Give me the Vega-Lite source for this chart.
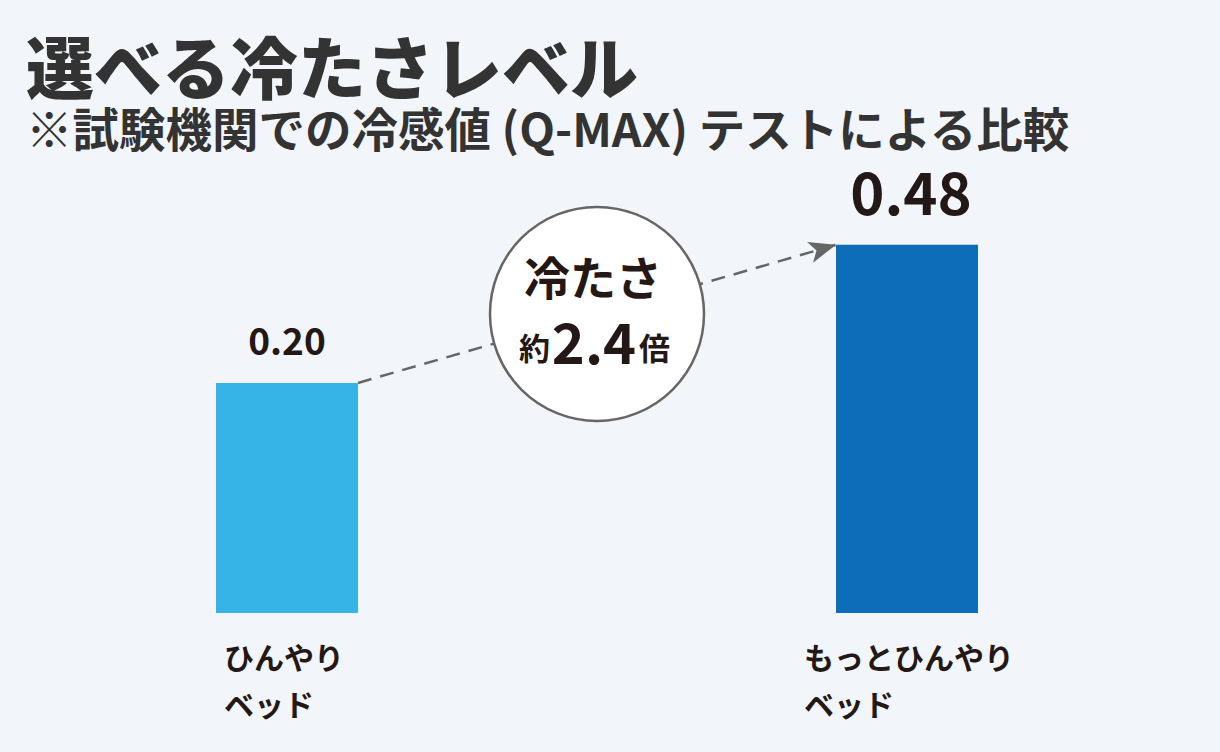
{
  "$schema": "https://vega.github.io/schema/vega-lite/v6.json",
  "autosize": {"type": "none"},
  "padding": {"left": 216, "top": 67, "right": 242, "bottom": 139},
  "width": 762,
  "height": 546,
  "background": "#f2f6fa",
  "config": {"view": {"stroke": null}, "font": "Noto Sans CJK JP"},
  "title": {
    "text": "選べる冷たさレベル",
    "subtitle": "※試験機関での冷感値 (Q-MAX) テストによる比較",
    "anchor": "start",
    "frame": "group",
    "font": "Noto Sans CJK JP",
    "fontSize": 68,
    "fontWeight": 900,
    "color": "#333333",
    "subtitleFont": "Noto Sans CJK JP",
    "subtitleFontSize": 46.5,
    "subtitleFontWeight": "bold",
    "subtitleColor": "#333333",
    "subtitlePadding": 2,
    "dx": -190,
    "offset": -89
  },
  "datasets": {
    "bars": [
      {"name": "ひんやりベッド", "value": 0.20},
      {"name": "もっとひんやりベッド", "value": 0.48}
    ],
    "arrow": [
      {"from": "ひんやりベッド", "to": "もっとひんやりベッド", "v0": 0.20, "v1": 0.48}
    ],
    "note": [
      {"name": "mid", "pos": 0.326, "head": "冷たさ", "prefix": "約", "ratio": "2.4", "suffix": "倍"}
    ]
  },
  "layer": [
    {
      "data": {"name": "bars"},
      "mark": {"type": "bar"},
      "encoding": {
        "x": {
          "field": "name",
          "type": "nominal",
          "sort": null,
          "scale": {"domain": ["ひんやりベッド", "mid", "もっとひんやりベッド"], "paddingInner": 0.54194, "paddingOuter": 0},
          "axis": {
            "title": null,
            "domain": false,
            "ticks": false,
            "tickSize": 0,
            "labelAngle": 0,
            "labelFont": "Noto Sans CJK JP",
            "labelFontSize": 30,
            "labelFontWeight": "bold",
            "labelColor": "#231815",
            "labelAlign": "left",
            "labelBaseline": "top",
            "labelLineHeight": 47,
            "labelPadding": 31,
            "labelLimit": 400,
            "labelOverlap": false,
            "labelOffset": {"condition": {"test": "datum.value == 'ひんやりベッド'", "value": -63}, "value": -103},
            "labelExpr": "datum.value == 'mid' ? '' : [replace(datum.value, 'ベッド', ''), 'ベッド']"
          }
        },
        "y": {
          "field": "value",
          "type": "quantitative",
          "scale": {"type": "pow", "exponent": 0.537, "domain": [0, 1], "nice": false},
          "axis": null
        },
        "color": {
          "field": "name",
          "type": "nominal",
          "scale": {"domain": ["ひんやりベッド", "もっとひんやりベッド"], "range": ["#36b4e8", "#0e6db8"]},
          "legend": null
        }
      }
    },
    {
      "data": {"name": "bars"},
      "transform": [{"filter": "datum.name == 'ひんやりベッド'"}],
      "mark": {"type": "text", "font": "Noto Sans CJK JP", "fontSize": 37, "fontWeight": "bold", "color": "#231815", "align": "center", "baseline": "alphabetic", "dy": -28},
      "encoding": {
        "x": {"field": "name", "type": "nominal"},
        "y": {"field": "value", "type": "quantitative"},
        "text": {"field": "value", "type": "quantitative", "format": ".2f"}
      }
    },
    {
      "data": {"name": "bars"},
      "transform": [{"filter": "datum.name == 'もっとひんやりベッド'"}],
      "mark": {"type": "text", "font": "Noto Sans CJK JP", "fontSize": 58, "fontWeight": "bold", "color": "#231815", "align": "center", "baseline": "alphabetic", "dy": -30, "dx": 4},
      "encoding": {
        "x": {"field": "name", "type": "nominal"},
        "y": {"field": "value", "type": "quantitative"},
        "text": {"field": "value", "type": "quantitative", "format": ".2f"}
      }
    },
    {
      "data": {"name": "arrow"},
      "mark": {"type": "rule", "color": "#666666", "strokeWidth": 2.5, "strokeDash": [14, 9]},
      "encoding": {
        "x": {"field": "from", "type": "nominal", "bandPosition": 1},
        "x2": {"field": "to", "bandPosition": 0},
        "y": {"field": "v0", "type": "quantitative"},
        "y2": {"field": "v1"}
      }
    },
    {
      "data": {"name": "arrow"},
      "mark": {"type": "point", "shape": "M0,0 L-2,-0.8 L-1.5,0 L-2,0.8 Z", "filled": true, "color": "#666666", "opacity": 1, "size": 729, "angle": 344},
      "encoding": {
        "x": {"field": "to", "type": "nominal", "bandPosition": 0},
        "y": {"field": "v1", "type": "quantitative"}
      }
    },
    {
      "data": {"name": "note"},
      "mark": {"type": "point", "shape": "circle", "filled": true, "fill": "#ffffff", "stroke": "#666666", "strokeWidth": 2.5, "opacity": 1, "size": 45796},
      "encoding": {
        "x": {"field": "name", "type": "nominal"},
        "y": {"field": "pos", "type": "quantitative"}
      }
    },
    {
      "data": {"name": "note"},
      "mark": {"type": "text", "font": "Noto Sans CJK JP", "fontSize": 46, "fontWeight": "bold", "color": "#231815", "align": "center", "baseline": "middle", "dy": -33, "dx": -4},
      "encoding": {
        "x": {"field": "name", "type": "nominal"},
        "y": {"field": "pos", "type": "quantitative"},
        "text": {"field": "head"}
      }
    },
    {
      "data": {"name": "note"},
      "mark": {"type": "text", "font": "Noto Sans CJK JP", "fontSize": 56, "fontWeight": "bold", "color": "#231815", "align": "center", "baseline": "alphabetic", "dy": 50, "dx": -3},
      "encoding": {
        "x": {"field": "name", "type": "nominal"},
        "y": {"field": "pos", "type": "quantitative"},
        "text": {"field": "ratio"}
      }
    },
    {
      "data": {"name": "note"},
      "mark": {"type": "text", "font": "Noto Sans CJK JP", "fontSize": 31, "fontWeight": "bold", "color": "#231815", "align": "right", "baseline": "alphabetic", "dy": 46, "dx": -47},
      "encoding": {
        "x": {"field": "name", "type": "nominal"},
        "y": {"field": "pos", "type": "quantitative"},
        "text": {"field": "prefix"}
      }
    },
    {
      "data": {"name": "note"},
      "mark": {"type": "text", "font": "Noto Sans CJK JP", "fontSize": 31, "fontWeight": "bold", "color": "#231815", "align": "left", "baseline": "alphabetic", "dy": 46, "dx": 42},
      "encoding": {
        "x": {"field": "name", "type": "nominal"},
        "y": {"field": "pos", "type": "quantitative"},
        "text": {"field": "suffix"}
      }
    }
  ]
}
